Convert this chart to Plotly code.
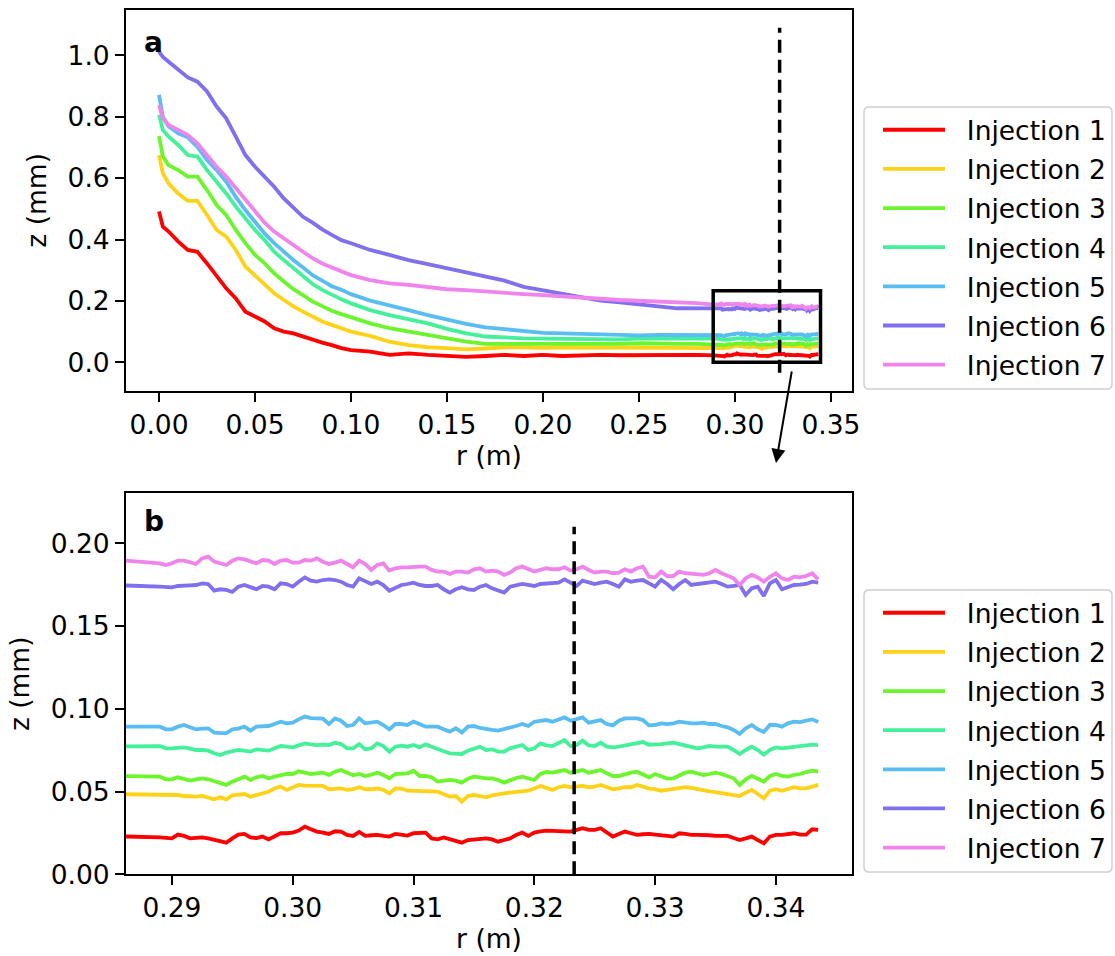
import sys
import plotly.graph_objects as go

# ---------------- data ----------------
names = ["Injection 1", "Injection 2", "Injection 3", "Injection 4",
         "Injection 5", "Injection 6", "Injection 7"]
colors = ["#ff0000", "#ffd21a", "#6cf52c", "#45f09a", "#5abdf2", "#8070ee", "#ef84ec"]

# coarse samples over the decaying part (m)
r_top = [0.000, 0.002, 0.005, 0.010, 0.015, 0.020, 0.025, 0.030, 0.035, 0.040,
         0.045, 0.050, 0.055, 0.060, 0.065, 0.070, 0.075, 0.080, 0.085, 0.090,
         0.095, 0.100, 0.110, 0.120, 0.130, 0.140, 0.150, 0.160, 0.170, 0.180,
         0.190, 0.200, 0.210, 0.220, 0.230, 0.240, 0.250, 0.260, 0.270, 0.280]
# fine samples in the zoomed window (m)
r_zoom = [0.2890, 0.2895, 0.2900, 0.2905, 0.2910, 0.2915, 0.2920, 0.2925, 0.2930, 0.2935,
          0.2940, 0.2945, 0.2950, 0.2955, 0.2960, 0.2965, 0.2970, 0.2975, 0.2980, 0.2985,
          0.2990, 0.2995, 0.3000, 0.3005, 0.3010, 0.3015, 0.3020, 0.3025, 0.3030, 0.3035,
          0.3040, 0.3045, 0.3050, 0.3055, 0.3060, 0.3065, 0.3070, 0.3075, 0.3080, 0.3085,
          0.3090, 0.3095, 0.3100, 0.3105, 0.3110, 0.3115, 0.3120, 0.3125, 0.3130, 0.3135,
          0.3140, 0.3145, 0.3150, 0.3155, 0.3160,
          0.3165, 0.3170, 0.3175, 0.3180, 0.3185, 0.3190, 0.3195, 0.3200, 0.3205, 0.3210,
          0.3215, 0.3220, 0.3225, 0.3230, 0.3235, 0.3240, 0.3245, 0.3250, 0.3255, 0.3260,
          0.3265, 0.3270, 0.3275, 0.3280, 0.3285, 0.3290, 0.3295, 0.3300, 0.3305, 0.3310,
          0.3315, 0.3320, 0.3325, 0.3330, 0.3335, 0.3340, 0.3345, 0.3350, 0.3355, 0.3360,
          0.3365, 0.3370, 0.3375, 0.3380, 0.3385, 0.3390, 0.3395, 0.3400, 0.3405, 0.3410,
          0.3415, 0.3420, 0.3425, 0.3430, 0.3435]

# z (mm), coarse part
z1_top = [0.491, 0.442, 0.426, 0.393, 0.366, 0.360, 0.322, 0.279, 0.241, 0.208,
          0.165, 0.149, 0.133, 0.111, 0.100, 0.094, 0.083, 0.072, 0.064, 0.056,
          0.046, 0.040, 0.035, 0.024, 0.029, 0.024, 0.0205, 0.018, 0.0205, 0.024,
          0.0205, 0.024, 0.0205, 0.023, 0.024, 0.023, 0.024, 0.023, 0.024, 0.024]
z2_top = [0.675, 0.616, 0.583, 0.550, 0.526, 0.526, 0.480, 0.431, 0.409, 0.366,
          0.312, 0.284, 0.257, 0.225, 0.203, 0.182, 0.165, 0.149, 0.133, 0.122,
          0.111, 0.100, 0.086, 0.067, 0.056, 0.049, 0.046, 0.042, 0.045, 0.049,
          0.049, 0.047, 0.049, 0.049, 0.048, 0.049, 0.049, 0.049, 0.049, 0.049]
z3_top = [0.737, 0.670, 0.642, 0.626, 0.605, 0.605, 0.561, 0.512, 0.480, 0.431,
          0.388, 0.350, 0.322, 0.290, 0.263, 0.238, 0.219, 0.198, 0.183, 0.168,
          0.157, 0.146, 0.127, 0.111, 0.100, 0.089, 0.077, 0.067, 0.060, 0.060,
          0.060, 0.057, 0.060, 0.058, 0.060, 0.060, 0.062, 0.060, 0.060, 0.060]
z4_top = [0.806, 0.757, 0.735, 0.708, 0.675, 0.670, 0.626, 0.588, 0.550, 0.507,
          0.469, 0.431, 0.398, 0.360, 0.333, 0.306, 0.279, 0.255, 0.236, 0.219,
          0.205, 0.192, 0.170, 0.154, 0.140, 0.127, 0.109, 0.094, 0.084, 0.080,
          0.078, 0.077, 0.076, 0.075, 0.075, 0.075, 0.077, 0.076, 0.075, 0.077]
z5_top = [0.871, 0.800, 0.768, 0.746, 0.733, 0.702, 0.659, 0.626, 0.588, 0.539,
          0.496, 0.458, 0.420, 0.388, 0.360, 0.333, 0.309, 0.284, 0.266, 0.248,
          0.236, 0.222, 0.201, 0.187, 0.170, 0.154, 0.138, 0.125, 0.114, 0.107,
          0.103, 0.096, 0.094, 0.092, 0.089, 0.089, 0.088, 0.089, 0.089, 0.089]
z6_top = [1.012, 0.995, 0.979, 0.952, 0.928, 0.914, 0.882, 0.833, 0.795, 0.735,
          0.675, 0.637, 0.605, 0.572, 0.534, 0.502, 0.474, 0.455, 0.433, 0.415,
          0.398, 0.388, 0.366, 0.350, 0.333, 0.320, 0.306, 0.295, 0.279, 0.266,
          0.246, 0.235, 0.225, 0.212, 0.201, 0.195, 0.187, 0.182, 0.176, 0.176]
z7_top = [0.838, 0.795, 0.773, 0.757, 0.740, 0.713, 0.675, 0.637, 0.605, 0.567,
          0.529, 0.491, 0.455, 0.426, 0.404, 0.379, 0.360, 0.339, 0.322, 0.309,
          0.295, 0.284, 0.268, 0.257, 0.252, 0.244, 0.238, 0.235, 0.230, 0.226,
          0.222, 0.219, 0.216, 0.212, 0.207, 0.203, 0.201, 0.198, 0.198, 0.193]

# z (mm), zoomed window
z1_zoom = [0.0223, 0.0221, 0.0217, 0.0240, 0.0232, 0.0217, 0.0221, 0.0223, 0.0217, 0.0207,
           0.0199, 0.0191, 0.0217, 0.0240, 0.0244, 0.0223, 0.0219, 0.0228, 0.0211, 0.0232,
           0.0248, 0.0248, 0.0252, 0.0264, 0.0288, 0.0272, 0.0258, 0.0252, 0.0244, 0.0260,
           0.0258, 0.0238, 0.0232, 0.0256, 0.0232, 0.0236, 0.0238, 0.0232, 0.0228, 0.0244,
           0.0238, 0.0234, 0.0248, 0.0252, 0.0252, 0.0217, 0.0211, 0.0223, 0.0211, 0.0203,
           0.0191, 0.0207, 0.0211, 0.0217, 0.0217,
           0.0211, 0.0197, 0.0207, 0.0217, 0.0238, 0.0252, 0.0232, 0.0252, 0.0260, 0.0264,
           0.0262, 0.0260, 0.0258, 0.0258, 0.0268, 0.0278, 0.0268, 0.0268, 0.0278, 0.0252,
           0.0228, 0.0244, 0.0258, 0.0248, 0.0238, 0.0242, 0.0244, 0.0240, 0.0238, 0.0232,
           0.0228, 0.0248, 0.0244, 0.0238, 0.0238, 0.0238, 0.0236, 0.0232, 0.0232, 0.0232,
           0.0219, 0.0207, 0.0217, 0.0228, 0.0207, 0.0187, 0.0228, 0.0238, 0.0238, 0.0244,
           0.0248, 0.0240, 0.0240, 0.0272, 0.0268]
z2_zoom = [0.0483, 0.0485, 0.0485, 0.0479, 0.0473, 0.0469, 0.0469, 0.0473, 0.0465, 0.0453,
           0.0465, 0.0453, 0.0477, 0.0483, 0.0485, 0.0469, 0.0479, 0.0489, 0.0499, 0.0519,
           0.0530, 0.0510, 0.0526, 0.0540, 0.0536, 0.0534, 0.0534, 0.0534, 0.0514, 0.0516,
           0.0519, 0.0510, 0.0514, 0.0526, 0.0514, 0.0514, 0.0519, 0.0510, 0.0489, 0.0519,
           0.0518, 0.0505, 0.0505, 0.0505, 0.0503, 0.0501, 0.0499, 0.0483, 0.0469, 0.0473,
           0.0439, 0.0473, 0.0479, 0.0473, 0.0465,
           0.0477, 0.0485, 0.0489, 0.0493, 0.0497, 0.0499, 0.0505, 0.0519, 0.0534, 0.0522,
           0.0510, 0.0526, 0.0534, 0.0526, 0.0530, 0.0534, 0.0526, 0.0530, 0.0540, 0.0526,
           0.0514, 0.0519, 0.0526, 0.0526, 0.0540, 0.0530, 0.0518, 0.0514, 0.0505, 0.0510,
           0.0514, 0.0519, 0.0526, 0.0522, 0.0514, 0.0510, 0.0501, 0.0497, 0.0493, 0.0485,
           0.0479, 0.0473, 0.0493, 0.0510, 0.0485, 0.0459, 0.0505, 0.0514, 0.0505, 0.0514,
           0.0526, 0.0519, 0.0519, 0.0530, 0.0540]
z3_zoom = [0.0590, 0.0574, 0.0574, 0.0586, 0.0574, 0.0566, 0.0574, 0.0580, 0.0574, 0.0564,
           0.0550, 0.0540, 0.0560, 0.0578, 0.0590, 0.0570, 0.0586, 0.0594, 0.0580, 0.0590,
           0.0600, 0.0606, 0.0606, 0.0622, 0.0614, 0.0606, 0.0610, 0.0614, 0.0600, 0.0620,
           0.0630, 0.0614, 0.0598, 0.0606, 0.0594, 0.0602, 0.0614, 0.0600, 0.0580, 0.0606,
           0.0610, 0.0610, 0.0626, 0.0594, 0.0594, 0.0586, 0.0560, 0.0566, 0.0570, 0.0566,
           0.0554, 0.0578, 0.0590, 0.0586, 0.0580,
           0.0580, 0.0570, 0.0554, 0.0570, 0.0582, 0.0590, 0.0578, 0.0570, 0.0606, 0.0618,
           0.0614, 0.0622, 0.0630, 0.0614, 0.0622, 0.0630, 0.0614, 0.0622, 0.0630, 0.0610,
           0.0594, 0.0594, 0.0606, 0.0614, 0.0620, 0.0606, 0.0586, 0.0606, 0.0594, 0.0578,
           0.0580, 0.0600, 0.0614, 0.0620, 0.0610, 0.0600, 0.0606, 0.0614, 0.0606, 0.0594,
           0.0580, 0.0540, 0.0574, 0.0594, 0.0578, 0.0560, 0.0594, 0.0606, 0.0594, 0.0590,
           0.0600, 0.0606, 0.0618, 0.0626, 0.0620]
z4_zoom = [0.0775, 0.0761, 0.0761, 0.0765, 0.0767, 0.0759, 0.0751, 0.0751, 0.0747, 0.0731,
           0.0721, 0.0735, 0.0743, 0.0751, 0.0747, 0.0741, 0.0755, 0.0751, 0.0747, 0.0761,
           0.0775, 0.0771, 0.0767, 0.0779, 0.0791, 0.0785, 0.0781, 0.0783, 0.0781, 0.0795,
           0.0787, 0.0761, 0.0761, 0.0787, 0.0755, 0.0761, 0.0791, 0.0775, 0.0741, 0.0771,
           0.0777, 0.0771, 0.0781, 0.0767, 0.0785, 0.0771, 0.0755, 0.0743, 0.0731, 0.0731,
           0.0727, 0.0747, 0.0759, 0.0771, 0.0751,
           0.0755, 0.0741, 0.0741, 0.0761, 0.0771, 0.0781, 0.0751, 0.0761, 0.0791, 0.0779,
           0.0775, 0.0795, 0.0811, 0.0775, 0.0781, 0.0807, 0.0779, 0.0775, 0.0795, 0.0771,
           0.0767, 0.0771, 0.0779, 0.0787, 0.0795, 0.0799, 0.0783, 0.0783, 0.0787, 0.0791,
           0.0795, 0.0787, 0.0779, 0.0771, 0.0761, 0.0767, 0.0775, 0.0771, 0.0771, 0.0771,
           0.0751, 0.0727, 0.0751, 0.0771, 0.0751, 0.0723, 0.0751, 0.0767, 0.0761, 0.0765,
           0.0767, 0.0771, 0.0779, 0.0783, 0.0781]
z5_zoom = [0.0892, 0.0876, 0.0876, 0.0892, 0.0902, 0.0888, 0.0876, 0.0880, 0.0882, 0.0856,
           0.0852, 0.0852, 0.0876, 0.0880, 0.0892, 0.0868, 0.0892, 0.0892, 0.0896, 0.0908,
           0.0922, 0.0912, 0.0916, 0.0936, 0.0953, 0.0944, 0.0942, 0.0940, 0.0908, 0.0942,
           0.0928, 0.0896, 0.0902, 0.0942, 0.0912, 0.0916, 0.0922, 0.0902, 0.0876, 0.0908,
           0.0908, 0.0902, 0.0922, 0.0908, 0.0892, 0.0892, 0.0892, 0.0876, 0.0862, 0.0882,
           0.0856, 0.0892, 0.0896, 0.0884, 0.0876,
           0.0872, 0.0868, 0.0876, 0.0888, 0.0896, 0.0908, 0.0896, 0.0922, 0.0928, 0.0932,
           0.0922, 0.0936, 0.0948, 0.0928, 0.0936, 0.0948, 0.0916, 0.0922, 0.0932, 0.0908,
           0.0900, 0.0928, 0.0942, 0.0942, 0.0942, 0.0932, 0.0900, 0.0902, 0.0912, 0.0908,
           0.0912, 0.0922, 0.0916, 0.0912, 0.0912, 0.0916, 0.0908, 0.0908, 0.0896, 0.0888,
           0.0872, 0.0848, 0.0882, 0.0902, 0.0876, 0.0860, 0.0902, 0.0902, 0.0892, 0.0912,
           0.0922, 0.0920, 0.0928, 0.0936, 0.0920]
z6_zoom = [0.1738, 0.1734, 0.1734, 0.1742, 0.1742, 0.1746, 0.1748, 0.1758, 0.1754, 0.1714,
           0.1722, 0.1718, 0.1706, 0.1738, 0.1748, 0.1738, 0.1722, 0.1742, 0.1738, 0.1722,
           0.1758, 0.1754, 0.1738, 0.1768, 0.1794, 0.1774, 0.1768, 0.1778, 0.1782, 0.1778,
           0.1768, 0.1748, 0.1738, 0.1788, 0.1768, 0.1754, 0.1768, 0.1748, 0.1714, 0.1734,
           0.1748, 0.1754, 0.1762, 0.1748, 0.1742, 0.1742, 0.1748, 0.1722, 0.1702, 0.1722,
           0.1734, 0.1722, 0.1718, 0.1738, 0.1748,
           0.1728, 0.1714, 0.1702, 0.1738, 0.1748, 0.1754, 0.1748, 0.1742, 0.1754, 0.1758,
           0.1758, 0.1762, 0.1782, 0.1762, 0.1742, 0.1774, 0.1762, 0.1754, 0.1762, 0.1768,
           0.1754, 0.1738, 0.1782, 0.1768, 0.1774, 0.1778, 0.1758, 0.1738, 0.1778, 0.1754,
           0.1722, 0.1754, 0.1778, 0.1748, 0.1754, 0.1758, 0.1762, 0.1768, 0.1754, 0.1738,
           0.1742, 0.1748, 0.1688, 0.1728, 0.1738, 0.1682, 0.1758, 0.1778, 0.1722, 0.1738,
           0.1748, 0.1750, 0.1754, 0.1768, 0.1762]
z7_zoom = [0.1879, 0.1869, 0.1879, 0.1895, 0.1895, 0.1883, 0.1875, 0.1909, 0.1919, 0.1889,
           0.1879, 0.1869, 0.1895, 0.1909, 0.1903, 0.1889, 0.1879, 0.1899, 0.1895, 0.1875,
           0.1895, 0.1899, 0.1883, 0.1883, 0.1899, 0.1895, 0.1909, 0.1889, 0.1875, 0.1883,
           0.1895, 0.1875, 0.1855, 0.1895, 0.1875, 0.1839, 0.1869, 0.1879, 0.1835, 0.1849,
           0.1855, 0.1855, 0.1859, 0.1859, 0.1859, 0.1839, 0.1829, 0.1829, 0.1815, 0.1829,
           0.1829, 0.1823, 0.1843, 0.1849, 0.1829,
           0.1835, 0.1829, 0.1809, 0.1823, 0.1849, 0.1859, 0.1843, 0.1829, 0.1839, 0.1849,
           0.1843, 0.1843, 0.1855, 0.1835, 0.1843, 0.1859, 0.1839, 0.1823, 0.1829, 0.1829,
           0.1819, 0.1823, 0.1843, 0.1829, 0.1849, 0.1859, 0.1798, 0.1794, 0.1829, 0.1802,
           0.1802, 0.1829, 0.1819, 0.1815, 0.1809, 0.1809, 0.1819, 0.1839, 0.1819, 0.1802,
           0.1788, 0.1748, 0.1788, 0.1809, 0.1794, 0.1768, 0.1798, 0.1819, 0.1788, 0.1778,
           0.1798, 0.1794, 0.1802, 0.1819, 0.1782]

z_top = [z1_top, z2_top, z3_top, z4_top, z5_top, z6_top, z7_top]
z_zoom = [z1_zoom, z2_zoom, z3_zoom, z4_zoom, z5_zoom, z6_zoom, z7_zoom]

# annotation values
r_cut = 0.3233              # dashed marker position (m)
box_r = [0.2887, 0.3446]    # zoom window in panel a (m)
box_z = [0.0, 0.233]        # zoom window in panel a (mm)
cut_z_a = [-0.034, 1.09]
cut_z_b = [0.0, 0.21]

xticks_a = [0.00, 0.05, 0.10, 0.15, 0.20, 0.25, 0.30, 0.35]
yticks_a = [0.0, 0.2, 0.4, 0.6, 0.8, 1.0]
xticks_b = [0.29, 0.30, 0.31, 0.32, 0.33, 0.34]
yticks_b = [0.00, 0.05, 0.10, 0.15, 0.20]

# ---------------- figure ----------------
W, H = 1115, 956
FONT = "DejaVu Sans"
FS = 26.5
NB = "\u00a0\u00a0"


def px_x(p):
    return p / W


def px_y(p):
    return 1 - p / H


fig = go.Figure()
for i, name in enumerate(names):
    zt, zz = z_top[i], z_zoom[i]
    if len(zt) != len(r_top) or len(zz) != len(r_zoom):
        print("length mismatch", name, len(zt), len(zz), file=sys.stderr)
    m = min(len(zt), len(r_top))
    n = min(len(zz), len(r_zoom))
    r_all = r_top[:m] + r_zoom[:n]
    z_all = zt[:m] + zz[:n]
    fig.add_trace(go.Scatter(x=r_all, y=z_all, mode="lines", name=NB + name,
                             line=dict(color=colors[i], width=3.8),
                             xaxis="x", yaxis="y", legend="legend",
                             legendgroup=f"g{i}"))
    fig.add_trace(go.Scatter(x=r_all, y=z_all, mode="lines", name=NB + name,
                             line=dict(color=colors[i], width=3.8),
                             xaxis="x2", yaxis="y2", legend="legend2",
                             legendgroup=f"g{i}"))

axis_common = dict(showline=True, linecolor="black", linewidth=2, mirror=True,
                   ticks="outside", ticklen=9, tickwidth=2, tickcolor="black",
                   showgrid=False, zeroline=False, automargin=False,
                   tickfont=dict(family=FONT, size=FS, color="black"))

xd = [px_x(126), px_x(852)]
leg_common = dict(xanchor="left", yanchor="top", borderwidth=0,
                  bgcolor="rgba(0,0,0,0)",
                  font=dict(family=FONT, size=FS, color="black"),
                  tracegroupgap=1.7, itemwidth=62)
fig.update_layout(
    template="none",
    width=W, height=H, margin=dict(l=0, r=0, t=0, b=0, autoexpand=False),
    paper_bgcolor="white", plot_bgcolor="white",
    font=dict(family=FONT, size=FS, color="black"),
    xaxis=dict(domain=xd, range=[-0.0172, 0.3610], anchor="y",
               tickvals=xticks_a, tickformat=".2f",
               title=dict(text="r (m)", standoff=8, font=dict(family=FONT, size=FS)),
               **axis_common),
    yaxis=dict(domain=[px_y(390.7), px_y(10)], range=[-0.0925, 1.1476], anchor="x",
               tickvals=yticks_a, tickformat=".1f",
               title=dict(text="z (mm)", standoff=13, font=dict(family=FONT, size=FS)),
               **axis_common),
    xaxis2=dict(domain=xd, range=[0.2862, 0.3463], anchor="y2",
                tickvals=xticks_b, tickformat=".2f",
                title=dict(text="r (m)", standoff=6, font=dict(family=FONT, size=FS)),
                **axis_common),
    yaxis2=dict(domain=[px_y(874.3), px_y(493.3)], range=[0.0, 0.2302], anchor="x2",
                tickvals=yticks_b, tickformat=".2f",
                title=dict(text="z (mm)", standoff=13, font=dict(family=FONT, size=FS)),
                **axis_common),
    legend=dict(x=px_x(878), y=px_y(106), **leg_common),
    legend2=dict(x=px_x(878), y=px_y(589), **leg_common),
)


def rounded_box(x0, y0, x1, y1, rad=5):
    """Rounded rectangle path in paper coordinates from pixel corners."""
    rx, ry = rad / W, rad / H
    X0, X1 = px_x(x0), px_x(x1)
    Y0, Y1 = px_y(y1), px_y(y0)  # bottom, top
    return (f"M{X0 + rx},{Y1} L{X1 - rx},{Y1} Q{X1},{Y1} {X1},{Y1 - ry} "
            f"L{X1},{Y0 + ry} Q{X1},{Y0} {X1 - rx},{Y0} L{X0 + rx},{Y0} "
            f"Q{X0},{Y0} {X0},{Y0 + ry} L{X0},{Y1 - ry} Q{X0},{Y1} {X0 + rx},{Y1} Z")


for (y0, y1) in [(107, 389), (590, 872)]:
    fig.add_shape(type="path", xref="paper", yref="paper",
                  path=rounded_box(864, y0, 1112, y1),
                  line=dict(color="#d0d0d0", width=1.5), fillcolor="white",
                  layer="below")

# zoom box and dashed markers
fig.add_shape(type="rect", xref="x", yref="y", x0=box_r[0], x1=box_r[1],
              y0=box_z[0], y1=box_z[1], line=dict(color="black", width=3.5),
              layer="above")
fig.add_shape(type="line", xref="x", yref="y", x0=r_cut, x1=r_cut,
              y0=cut_z_a[0], y1=cut_z_a[1],
              line=dict(color="black", width=3.5, dash="13px,7px"), layer="above")
fig.add_shape(type="line", xref="x2", yref="y2", x0=r_cut, x1=r_cut,
              y0=cut_z_b[0], y1=cut_z_b[1],
              line=dict(color="black", width=3.5, dash="13px,7px"), layer="above")

# arrow from panel a to panel b
fig.add_annotation(xref="paper", yref="paper", x=px_x(776), y=px_y(463),
                   ax=16, ay=-93, axref="pixel", ayref="pixel",
                   showarrow=True, arrowhead=2, arrowsize=1.4, arrowwidth=2,
                   arrowcolor="black", text="")

# panel letters
fig.add_annotation(xref="paper", yref="paper", x=px_x(153), y=px_y(43),
                   text="<b>a</b>", showarrow=False, xanchor="center", yanchor="middle",
                   font=dict(family=FONT, size=28, color="black"))
fig.add_annotation(xref="paper", yref="paper", x=px_x(154), y=px_y(521),
                   text="<b>b</b>", showarrow=False, xanchor="center", yanchor="middle",
                   font=dict(family=FONT, size=28, color="black"))

page_js = ("document.documentElement.style.margin='0px';"
           "document.body.style.margin='0px';"
           "document.body.style.padding='0px';"
           "document.documentElement.style.overflow='hidden';"
           "document.body.style.overflow='hidden';")
fig.write_html("out.html", config={"displayModeBar": False}, post_script=page_js)
